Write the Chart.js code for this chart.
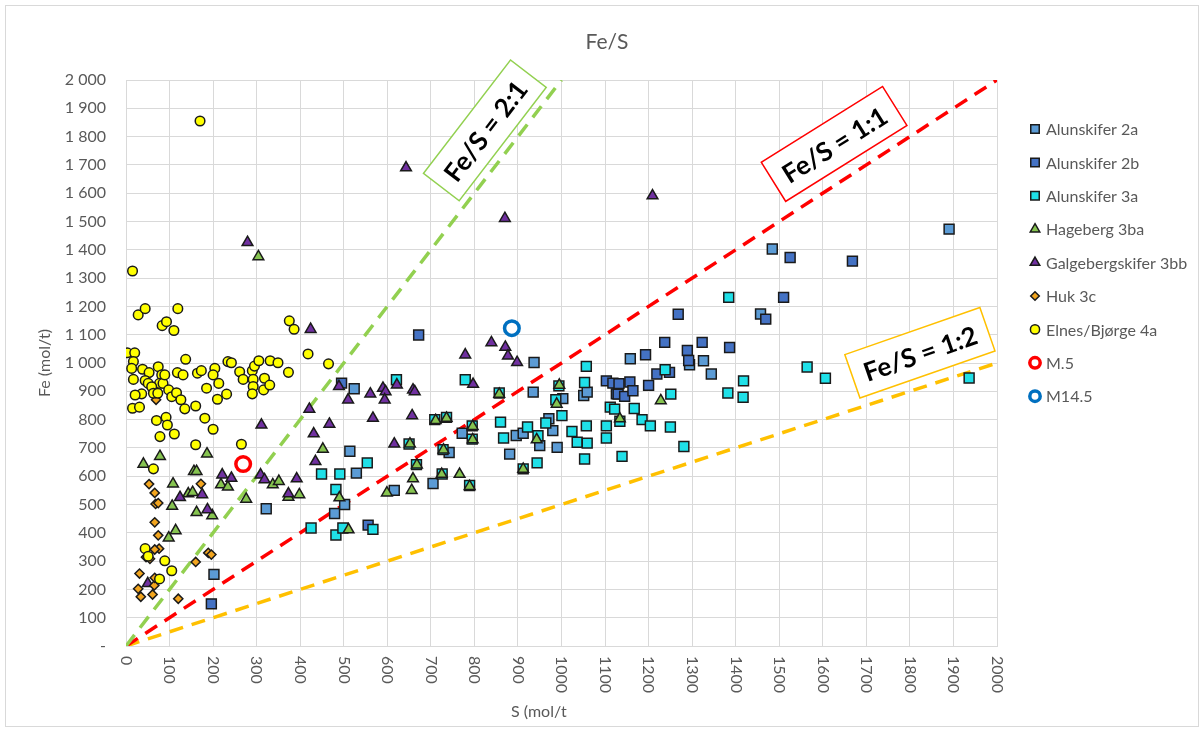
<!DOCTYPE html>
<html><head><meta charset="utf-8">
<script src="https://cdn.jsdelivr.net/npm/chart.js@4/dist/chart.umd.min.js"></script>
<style>html,body{margin:0;padding:0;background:#fff;}canvas{display:block;}</style>
</head><body>
<canvas id="c" width="1204" height="731"></canvas>
<script>
const chartTitle = 'Fe/S';
const xTitle = 'S (mol/t';
const yTitle = 'Fe (mol/t)';
const seriesNames = ['Alunskifer 2a','Alunskifer 2b','Alunskifer 3a','Hageberg 3ba','Galgebergskifer 3bb','Huk 3c','Elnes/Bjørge 4a','M.5','M14.5'];
const ratioLabels = ['Fe/S = 2:1','Fe/S = 1:1','Fe/S = 1:2'];
const xTickValues = [0,100,200,300,400,500,600,700,800,900,1000,1100,1200,1300,1400,1500,1600,1700,1800,1900,2000];
const xTickLabels = ['0','100','200','300','400','500','600','700','800','900','1000','1100','1200','1300','1400','1500','1600','1700','1800','1900','2000'];
const yTickLabels = ['-','100','200','300','400','500','600','700','800','900','1 000','1 100','1 200','1 300','1 400','1 500','1 600','1 700','1 800','1 900','2 000'];

// [S, Fe] pairs (mol/t)
const alunskifer2a = [[202,253],[322,485],[479,468],[502,500],[514,688],[524,909],[529,611],[616,550],[705,574],[742,684],[772,752],[881,678],[896,744],[912,752],[937,1002],[935,897],[950,708],[971,803],[980,761],[990,702],[1003,874],[1051,885],[1059,897],[1158,1015],[1294,994],[1326,1008],[1344,961],[1457,1173],[1484,1403],[1890,1473]];
const alunskifer2b = [[196,149],[495,929],[556,427],[672,1099],[1103,937],[1118,929],[1126,891],[1132,927],[1157,933],[1130,890],[1145,882],[1164,902],[1193,1029],[1200,921],[1219,961],[1248,967],[1237,1073],[1268,1172],[1289,1044],[1292,1009],[1323,1073],[1386,1055],[1469,1155],[1510,1232],[1525,1373],[1668,1360]];
const alunskifer3a = [[621,941],[779,941],[449,608],[491,608],[554,647],[482,553],[482,392],[498,417],[425,417],[567,412],[650,714],[667,641],[709,800],[736,808],[728,694],[726,608],[789,567],[795,778],[795,731],[857,894],[860,791],[867,735],[922,774],[946,743],[964,788],[912,626],[944,647],[994,919],[987,870],[1001,814],[1024,758],[1036,720],[1057,988],[1053,931],[1057,778],[1059,717],[1053,661],[1112,844],[1103,778],[1103,735],[1122,837],[1384,1232],[1238,976],[1251,890],[1564,986],[1606,946],[1418,937],[1382,894],[1417,879],[1134,794],[1167,839],[1185,800],[1204,778],[1250,774],[1281,705],[1139,670],[1936,947]];
const hageberg3ba = [[40,643],[78,670],[186,679],[156,617],[162,617],[108,573],[218,570],[234,562],[143,538],[153,543],[106,494],[162,472],[198,461],[276,519],[114,408],[98,382],[304,1376],[337,570],[351,582],[373,526],[398,535],[452,696],[490,524],[511,411],[599,541],[656,550],[659,591],[652,714],[668,640],[711,797],[736,805],[729,693],[725,607],[766,607],[789,564],[796,776],[796,729],[857,890],[943,729],[912,625],[989,855],[995,922],[1134,803],[1228,867]];
const galgeberg3bb = [[50,221],[124,525],[175,535],[187,482],[221,605],[242,593],[279,1426],[309,605],[318,588],[311,781],[373,538],[392,591],[421,837],[424,1119],[431,750],[435,652],[467,784],[489,917],[510,870],[561,891],[567,805],[590,911],[596,899],[594,870],[616,714],[622,923],[643,1690],[657,814],[659,905],[663,899],[779,1029],[797,925],[839,1072],[870,1511],[871,1056],[877,1025],[898,1002],[1209,1591]];
const huk3c = [[53,572],[66,541],[172,573],[68,502],[74,505],[66,437],[74,391],[76,344],[66,341],[46,314],[55,308],[189,329],[196,323],[160,297],[31,256],[28,202],[65,214],[66,241],[34,174],[61,182],[120,167],[69,870]];
const elnes4a = [[170,1855],[15,1325],[28,1170],[44,1192],[83,1132],[93,1146],[110,1115],[119,1192],[375,1149],[386,1119],[3,1036],[20,1036],[17,1005],[13,981],[38,978],[53,966],[74,987],[82,958],[77,928],[17,942],[44,938],[51,928],[85,928],[89,958],[36,891],[21,887],[59,916],[63,893],[73,893],[98,905],[105,881],[116,895],[137,1013],[118,966],[131,958],[164,964],[173,973],[204,981],[200,958],[213,928],[185,911],[231,890],[210,872],[126,870],[135,838],[160,848],[15,840],[31,844],[70,797],[92,808],[95,781],[78,740],[111,749],[181,805],[200,766],[160,711],[265,713],[234,1005],[242,1001],[261,969],[269,942],[290,973],[295,989],[305,1008],[292,942],[292,917],[290,891],[318,946],[316,905],[331,1008],[349,1001],[330,922],[373,967],[418,1032],[465,997],[63,626],[44,344],[51,317],[89,301],[105,266],[77,237]];
const m5 = [[269,643]];
const m145 = [[886,1123]];
const line21 = [[0,0],[1000,2000]];
const line11 = [[0,0],[2000,2000]];
const line12 = [[0,0],[2000,1000]];

const toXY = arr => arr.map(p => ({x: p[0], y: p[1]}));
const edge = '#1a1a1a';
function pts(label, arr, style, bg, r, order, border, bw) {
  return {label, data: toXY(arr), pointStyle: style, backgroundColor: bg, borderColor: border || edge,
    pointBorderWidth: bw || 1.5, borderWidth: bw || 1.5, pointRadius: r, pointHoverRadius: r, showLine: false, order, isSeries: true};
}
function refLine(arr, color, order) {
  return {label: '', data: toXY(arr), showLine: true, pointRadius: 0, borderColor: color, borderWidth: 3.5,
    borderDash: [14, 9], fill: false, order, isSeries: false};
}

const datasets = [
  refLine(line21, '#92d050', 20), refLine(line11, '#ff0000', 21), refLine(line12, '#ffc000', 22),
  pts(seriesNames[0], alunskifer2a, 'rect', '#5b9bd5', 7, 9),
  pts(seriesNames[1], alunskifer2b, 'rect', '#4472c4', 7, 8),
  pts(seriesNames[2], alunskifer3a, 'rect', '#1fe0e8', 7, 7),
  pts(seriesNames[3], hageberg3ba, 'triangle', '#86c450', 6.2, 6),
  pts(seriesNames[4], galgeberg3bb, 'triangle', '#7030a0', 6.2, 5),
  pts(seriesNames[5], huk3c, 'rectRot', '#f2a51f', 4.6, 4),
  pts(seriesNames[6], elnes4a, 'circle', '#ffff00', 4.8, 3),
  pts(seriesNames[7], m5, 'circle', '#ffffff', 7.3, 2, '#ff0000', 3.5),
  pts(seriesNames[8], m145, 'circle', '#ffffff', 7.3, 1, '#0070c0', 3.5)
];

const ratioBoxes = [
  {text: ratioLabels[0], at: [824, 1822], angle: -52.5, w: 143, h: 45, color: '#92d050'},
  {text: ratioLabels[1], at: [1626, 1774], angle: -32, w: 143, h: 46, color: '#ff0000'},
  {text: ratioLabels[2], at: [1823, 1036], angle: -19.2, w: 143, h: 46, color: '#ffc000'}
];

const grey = '#595959';
const decor = {
  id: 'decor',
  afterDatasetsDraw(chart) {
    const ctx = chart.ctx, xs = chart.scales.x, ys = chart.scales.y;
    ratioBoxes.forEach(b => {
      const cx = xs.getPixelForValue(b.at[0]), cy = ys.getPixelForValue(b.at[1]);
      ctx.save();
      ctx.translate(cx, cy);
      ctx.rotate(b.angle * Math.PI / 180);
      ctx.fillStyle = '#ffffff';
      ctx.fillRect(-b.w / 2, -b.h / 2, b.w, b.h);
      ctx.strokeStyle = b.color; ctx.lineWidth = 1.5;
      ctx.strokeRect(-b.w / 2, -b.h / 2, b.w, b.h);
      ctx.fillStyle = '#000000';
      ctx.font = 'bold 26px Lato';
      ctx.textAlign = 'center'; ctx.textBaseline = 'middle';
      ctx.fillText(b.text, 0, 2);
      ctx.restore();
    });
  },
  afterDraw(chart) {
    const ctx = chart.ctx, xs = chart.scales.x;
    ctx.save();
    // outer border
    ctx.strokeStyle = '#d9d9d9'; ctx.lineWidth = 1;
    ctx.strokeRect(5.5, 5.5, 1193, 721);
    // title
    ctx.fillStyle = grey; ctx.font = '21px Lato'; ctx.textAlign = 'center'; ctx.textBaseline = 'middle';
    ctx.fillText(chartTitle, 607, 42);
    // x tick labels (rotated clockwise)
    ctx.font = '16px Lato'; ctx.textAlign = 'left'; ctx.textBaseline = 'middle';
    xTickValues.forEach((v, i) => {
      const px = xs.getPixelForValue(v);
      ctx.save(); ctx.translate(px, chart.chartArea.bottom + 10); ctx.rotate(Math.PI / 2);
      ctx.fillText(xTickLabels[i], 0, 0); ctx.restore();
    });
    // x title
    ctx.fillText(xTitle, 511, 712);
    // legend
    const items = chart.data.datasets.filter(d => d.isSeries);
    items.forEach((d, i) => {
      const y = 129 + i * 33.4;
      ctx.fillStyle = d.backgroundColor; ctx.strokeStyle = d.borderColor; ctx.lineWidth = d.pointBorderWidth;
      const r = d.pointStyle === 'circle' ? (d.pointBorderWidth > 2 ? 5.2 : 4.6) : (d.pointStyle === 'rect' ? 6 : (d.pointStyle === 'triangle' ? 5.5 : 4.3));
      Chart.helpers.drawPoint(ctx, {pointStyle: d.pointStyle, radius: r, rotation: 0, borderWidth: d.pointBorderWidth}, 1035, y);
      ctx.fillStyle = grey; ctx.font = '16px Lato'; ctx.textAlign = 'left'; ctx.textBaseline = 'middle';
      ctx.fillText(d.label, 1046, y + 1);
    });
    ctx.restore();
  }
};

new Chart(document.getElementById('c'), {
  type: 'scatter',
  data: {datasets},
  options: {
    responsive: false, animation: false, devicePixelRatio: 1,
    layout: {padding: {top: 80, right: 207, bottom: 0, left: 0}},
    plugins: {legend: {display: false}, tooltip: {enabled: false}, title: {display: false}},
    scales: {
      x: {type: 'linear', min: 0, max: 2000,
        ticks: {display: false, stepSize: 100},
        grid: {color: '#d9d9d9', lineWidth: 1, drawTicks: false},
        border: {color: '#d9d9d9', width: 1},
        afterFit(s) { s.height = 85; }},
      y: {type: 'linear', min: 0, max: 2000,
        ticks: {stepSize: 100, padding: 20, color: grey, font: {family: 'Lato', size: 16},
          callback: v => yTickLabels[Math.round(v / 100)]},
        grid: {color: '#d9d9d9', lineWidth: 1, drawTicks: false},
        border: {color: '#d9d9d9', width: 1},
        title: {display: true, text: yTitle, color: grey, font: {family: 'Lato', size: 16}, padding: {top: 35, bottom: 0}},
        afterFit(s) { s.width = 126; }}
    }
  },
  plugins: [decor]
});
</script>
</body></html>
